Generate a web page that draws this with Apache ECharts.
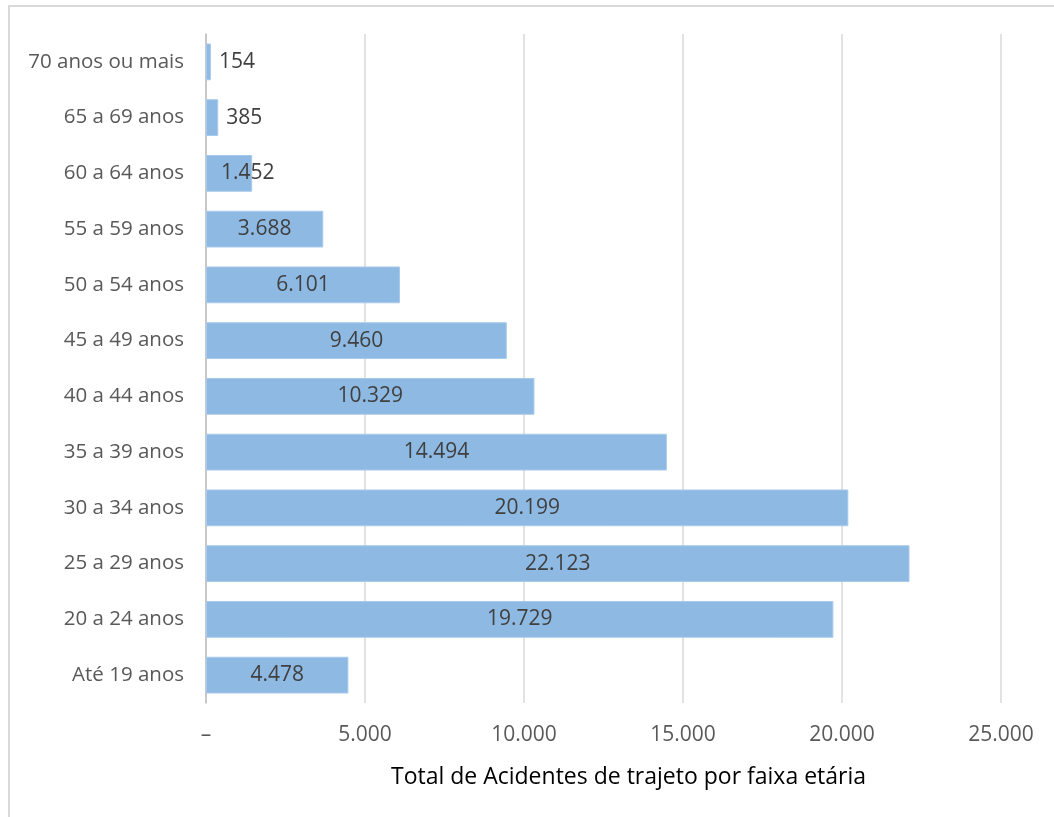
<!DOCTYPE html>
<html>
<head>
<meta charset="utf-8">
<script src="https://cdn.jsdelivr.net/npm/echarts@6/dist/echarts.min.js"></script>
<style>
  html, body { margin: 0; padding: 0; background: #fff; }
  #frame { position: absolute; left: 8px; top: 5px; width: 1060px; height: 830px; border: 2px solid #d9d9d9; box-sizing: border-box; }
  #chart { position: absolute; left: 0; top: 0; width: 1054px; height: 817px; }
</style>
</head>
<body>
<div id="frame"></div>
<div id="chart"></div>
<script>
// faixas etárias, de baixo para cima
const categories = ['Até 19 anos', '20 a 24 anos', '25 a 29 anos', '30 a 34 anos', '35 a 39 anos',
  '40 a 44 anos', '45 a 49 anos', '50 a 54 anos', '55 a 59 anos', '60 a 64 anos',
  '65 a 69 anos', '70 anos ou mais'];
const acidentes = [4478, 19729, 22123, 20199, 14494, 10329, 9460, 6101, 3688, 1452, 385, 154];
const axisTitle = 'Total de Acidentes de trajeto por faixa etária';

const fmt = (v) => v === 0 ? '–' : String(v).replace(/\B(?=(\d{3})+(?!\d))/g, '.');
const font = '"Open Sans", sans-serif';

const chart = echarts.init(document.getElementById('chart'), null, { renderer: 'canvas' });

const barData = acidentes.map((v) => {
  if (v < 1000) {
    return { value: v, label: { position: 'right', distance: 8 } };
  }
  if (v < 2000) {
    return { value: v, label: { position: [15, '50%'], align: 'left', verticalAlign: 'middle' } };
  }
  return v;
});

chart.setOption({
  backgroundColor: 'transparent',
  animation: false,
  grid: { left: 206, right: 53, top: 34, bottom: 114 },
  xAxis: {
    type: 'value',
    min: 0,
    max: 25000,
    interval: 5000,
    name: axisTitle,
    nameLocation: 'middle',
    nameGap: 63,
    nameTextStyle: { fontFamily: font, fontSize: 23, color: '#000', padding: [0, 0, 0, 50] },
    axisLine: { show: false },
    axisTick: { show: false },
    axisLabel: { formatter: fmt, fontFamily: font, fontSize: 21, color: '#595959', margin: 22 },
    splitLine: { lineStyle: { color: '#d9d9d9', width: 1.5 } }
  },
  yAxis: {
    type: 'category',
    data: categories,
    axisLine: { lineStyle: { color: '#bfbfbf', width: 1.5 } },
    axisTick: { show: false },
    axisLabel: { fontFamily: font, fontSize: 20.5, color: '#595959', margin: 22 }
  },
  series: [{
    type: 'bar',
    data: barData,
    barCategoryGap: '34%',
    itemStyle: { color: '#8db9e2', borderColor: '#a9cbeb', borderWidth: 1 },
    label: {
      show: true,
      position: 'inside',
      formatter: (p) => fmt(p.value),
      fontFamily: font,
      fontSize: 21,
      color: '#404040'
    }
  }]
});
</script>
</body>
</html>
